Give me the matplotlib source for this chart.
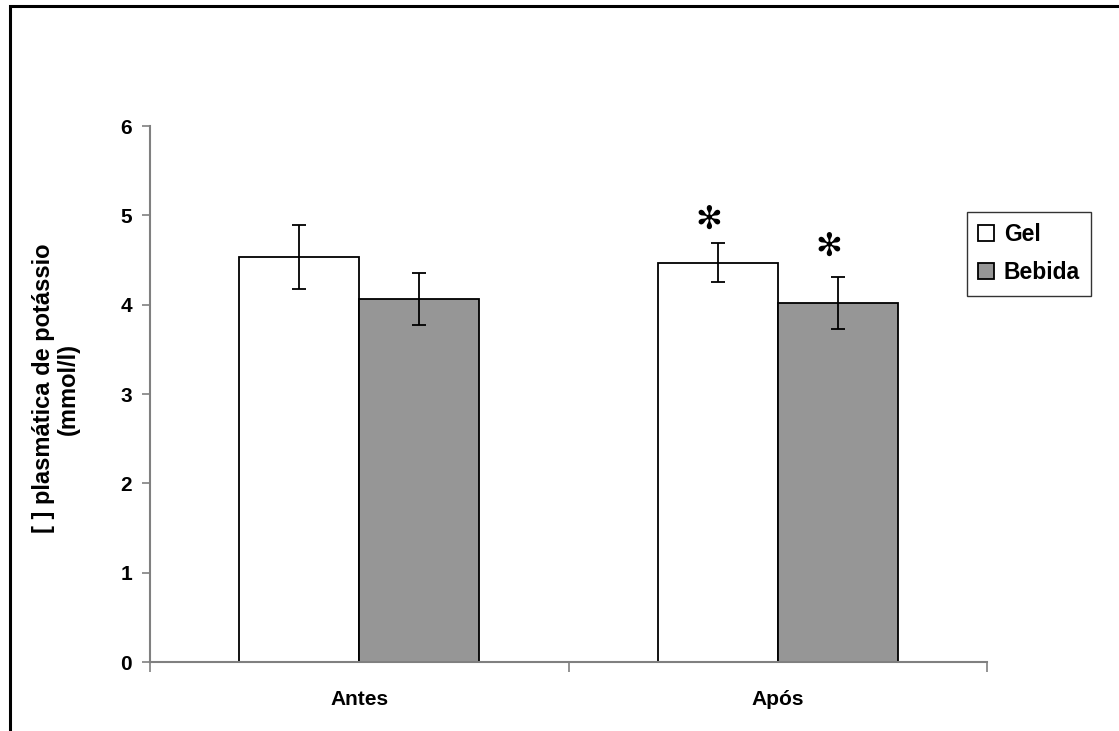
import matplotlib
matplotlib.use("Agg")
import matplotlib.pyplot as plt
from matplotlib.patches import Rectangle
import numpy as np

plt.rcParams['font.family'] = ['Liberation Sans', 'DejaVu Sans']

categories = ["Antes", "Após"]
series_names = ["Gel", "Bebida"]
gel_mean = [4.53, 4.47]
gel_err = [0.36, 0.22]
beb_mean = [4.06, 4.02]
beb_err = [0.29, 0.29]
significant_gel = [False, True]
significant_beb = [False, True]
yticks = [0, 1, 2, 3, 4, 5, 6]
ylabel = "[ ] plasmática de potássio\n(mmol/l)"

W, H = 1119, 731
fig = plt.figure(figsize=(W / 100, H / 100), dpi=100)
ax = fig.add_axes([150 / W, 1 - 662 / H, (987 - 150) / W, (662 - 126) / H])

x = np.arange(len(categories))
bw = 0.287
axis_gray = "#808080"

ax.bar(x - bw / 2, gel_mean, bw, color="white", edgecolor="black", linewidth=1.3,
       label=series_names[0], zorder=2)
ax.bar(x + bw / 2, beb_mean, bw, color="#969696", edgecolor="black", linewidth=1.3,
       label=series_names[1], zorder=2)
ax.errorbar(x - bw / 2, gel_mean, yerr=gel_err, fmt="none", ecolor="black",
            elinewidth=1.3, capsize=5, capthick=1.3, zorder=3)
ax.errorbar(x + bw / 2, beb_mean, yerr=beb_err, fmt="none", ecolor="black",
            elinewidth=1.3, capsize=5, capthick=1.3, zorder=3)

for i in range(len(categories)):
    if significant_gel[i]:
        ax.text(x[i] - bw / 2 - 0.022, gel_mean[i] + gel_err[i] + 0.25, "✻",
                ha="center", va="center", fontsize=23, family=['DejaVu Sans'])
    if significant_beb[i]:
        ax.text(x[i] + bw / 2 - 0.022, beb_mean[i] + beb_err[i] + 0.33, "✻",
                ha="center", va="center", fontsize=23, family=['DejaVu Sans'])

ax.set_xlim(-0.5, len(categories) - 0.5)
ax.set_ylim(0, 6)
ax.set_yticks(yticks)
ax.set_yticklabels([str(t) for t in yticks], fontsize=15, fontweight="bold")
ax.tick_params(axis="y", direction="out", length=6, width=1.2, color=axis_gray, pad=7)

ax.set_xticks(np.arange(-0.5, len(categories), 1.0))
ax.set_xticklabels([])
ax.set_xticks(x, minor=True)
ax.set_xticklabels(categories, minor=True, fontsize=15, fontweight="bold")
ax.tick_params(axis="x", which="major", direction="out", length=7, width=1.2, color=axis_gray)
ax.tick_params(axis="x", which="minor", length=0, pad=20)

for s in ["top", "right"]:
    ax.spines[s].set_visible(False)
for s in ["left", "bottom"]:
    ax.spines[s].set_color(axis_gray)
    ax.spines[s].set_linewidth(1.5)

ax.text((67 - 150) / 837 - 0.013, 0.51, ylabel, rotation=90, ha="center", va="center",
        multialignment="center", fontsize=17, fontweight="bold", linespacing=1.1,
        transform=ax.transAxes)

leg = fig.legend(loc="upper left", bbox_to_anchor=(967 / W, 1 - 212 / H),
                 bbox_transform=fig.transFigure, frameon=True, fancybox=False,
                 prop={"size": 16.5, "weight": "bold"}, handlelength=0.7,
                 handleheight=0.7, handletextpad=0.4, borderpad=0.5,
                 labelspacing=0.65, borderaxespad=0)
leg.get_frame().set_edgecolor("black")
leg.get_frame().set_linewidth(1.0)

fig.patches.append(Rectangle((10 / W, -0.1), 1.2, 1 - 6 / H + 0.1,
                             transform=fig.transFigure, fill=False,
                             edgecolor="black", linewidth=2.2, clip_on=False))

fig.savefig("out.png", dpi=100)
